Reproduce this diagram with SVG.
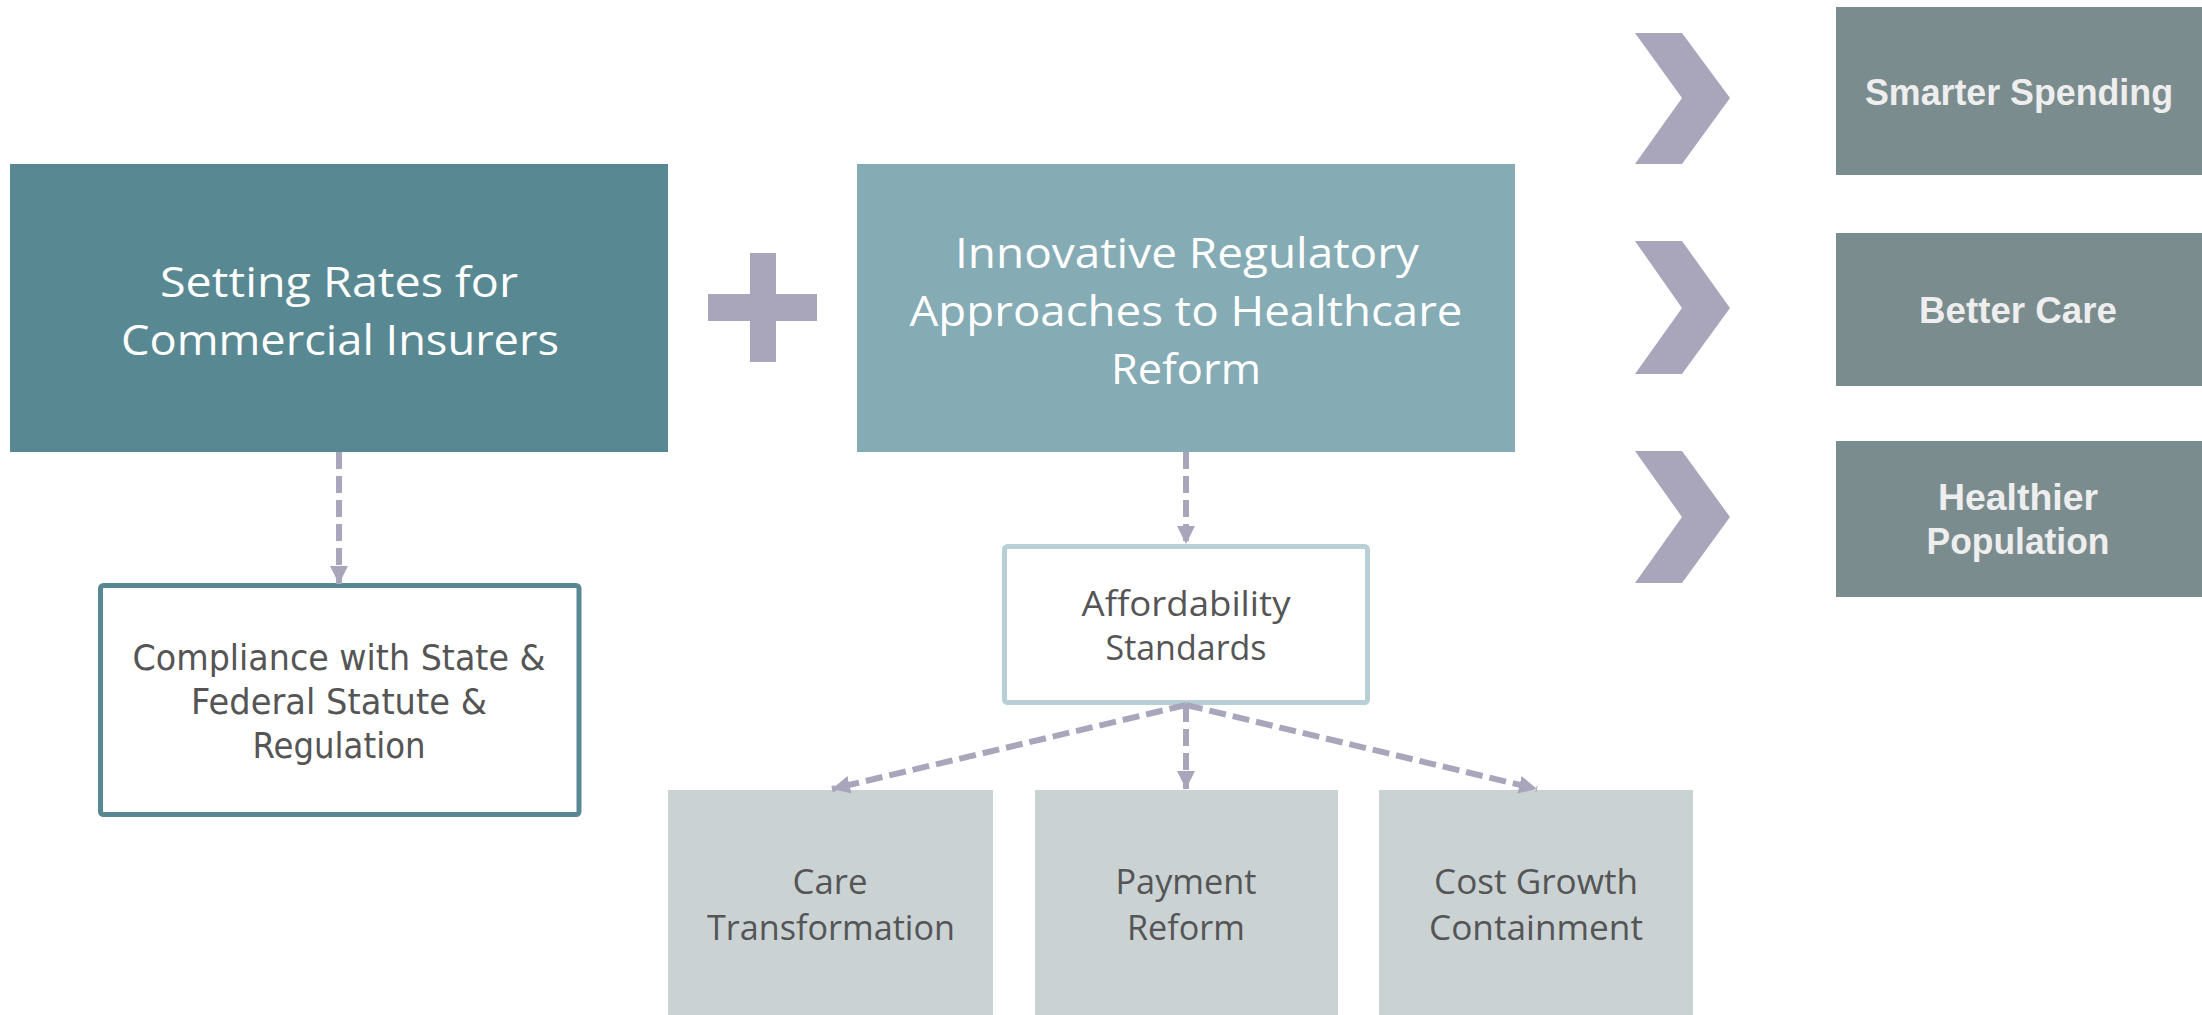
<svg xmlns="http://www.w3.org/2000/svg" width="2202" height="1015" viewBox="0 0 2202 1015">
<style>
.bg{fill:#ffffff}
.title{font-family:"Open Sans","Liberation Sans",sans-serif;font-size:42px;fill:#ffffff;text-anchor:middle}
.comp{font-family:"DejaVu Sans","Liberation Sans",sans-serif;font-size:36px;fill:#555555;text-anchor:middle}
.cond{font-family:"Open Sans","Liberation Sans",sans-serif;font-size:35px;fill:#555555;text-anchor:middle}
.goal{font-family:"Liberation Sans","Arial",sans-serif;font-size:37px;font-weight:bold;fill:#eeeeee;text-anchor:middle}
.chev{fill:#a9a6bc}
.goalbox{fill:#7b8c8e}
.sub{fill:#cad2d4}
.conn{stroke:#a9a6bc;stroke-width:6;stroke-dasharray:17 7;fill:none}
</style>
<defs>
<marker id="ah" markerUnits="userSpaceOnUse" markerWidth="18" markerHeight="18" refX="18" refY="9" orient="auto">
<path d="M0,0 L18,9 L0,18 Z" fill="#a9a6bc"/>
</marker>
</defs>
<rect class="bg" x="0" y="0" width="2202" height="1015"/>

<g id="setting-rates">
<rect x="10" y="164" width="658" height="288" fill="#588892"/>
<text class="title" x="339" y="297" textLength="358" lengthAdjust="spacingAndGlyphs">Setting Rates for</text>
<text class="title" x="340" y="355" textLength="438" lengthAdjust="spacingAndGlyphs">Commercial Insurers</text>
</g>

<g id="plus">
<rect x="750" y="253" width="26" height="109" fill="#a9a6bc"/>
<rect x="708" y="294" width="109" height="27" fill="#a9a6bc"/>
</g>

<g id="innovative">
<rect x="857" y="164" width="658" height="288" fill="#85abb5"/>
<text class="title" x="1187" y="268" textLength="464" lengthAdjust="spacingAndGlyphs">Innovative Regulatory</text>
<text class="title" x="1186" y="326" textLength="553" lengthAdjust="spacingAndGlyphs">Approaches to Healthcare</text>
<text class="title" x="1186" y="384" textLength="150" lengthAdjust="spacingAndGlyphs">Reform</text>
</g>

<g id="compliance">
<rect x="100.5" y="585.5" width="478.5" height="229" rx="3" fill="#ffffff" stroke="#588892" stroke-width="5"/>
<text class="comp" x="339" y="670" textLength="413" lengthAdjust="spacingAndGlyphs">Compliance with State &amp;</text>
<text class="comp" x="339" y="714" textLength="296" lengthAdjust="spacingAndGlyphs">Federal Statute &amp;</text>
<text class="comp" x="339" y="758" textLength="173" lengthAdjust="spacingAndGlyphs">Regulation</text>
</g>

<g id="affordability">
<rect x="1004.5" y="546.5" width="363" height="156" rx="3" fill="#ffffff" stroke="#b7cfd5" stroke-width="5"/>
<text class="cond" x="1186" y="616" textLength="209" lengthAdjust="spacingAndGlyphs">Affordability</text>
<text class="cond" x="1186" y="660" textLength="161" lengthAdjust="spacingAndGlyphs">Standards</text>
</g>

<g id="care-transformation">
<rect class="sub" x="668" y="790" width="325" height="225"/>
<text class="cond" x="830" y="894" textLength="75" lengthAdjust="spacingAndGlyphs">Care</text>
<text class="cond" x="831" y="940" textLength="248" lengthAdjust="spacingAndGlyphs">Transformation</text>
</g>

<g id="payment-reform">
<rect class="sub" x="1035" y="790" width="303" height="225"/>
<text class="cond" x="1186" y="894" textLength="141" lengthAdjust="spacingAndGlyphs">Payment</text>
<text class="cond" x="1186" y="940" textLength="118" lengthAdjust="spacingAndGlyphs">Reform</text>
</g>

<g id="cost-growth">
<rect class="sub" x="1379" y="790" width="314" height="225"/>
<text class="cond" x="1536" y="894" textLength="204" lengthAdjust="spacingAndGlyphs">Cost Growth</text>
<text class="cond" x="1536" y="940" textLength="214" lengthAdjust="spacingAndGlyphs">Containment</text>
</g>

<g id="chevrons">
<polygon class="chev" points="1635,33 1682,33 1730,98 1682,164 1635,164 1682,98"/>
<polygon class="chev" points="1635,241 1682,241 1730,308 1682,374 1635,374 1682,308"/>
<polygon class="chev" points="1635,451 1682,451 1730,517 1682,583 1635,583 1682,517"/>
</g>

<g id="smarter-spending">
<rect class="goalbox" x="1836" y="7" width="366" height="168"/>
<text class="goal" x="2019" y="105" textLength="308" lengthAdjust="spacingAndGlyphs">Smarter Spending</text>
</g>

<g id="better-care">
<rect class="goalbox" x="1836" y="233" width="366" height="153"/>
<text class="goal" x="2018" y="323" textLength="198" lengthAdjust="spacingAndGlyphs">Better Care</text>
</g>

<g id="healthier-population">
<rect class="goalbox" x="1836" y="441" width="366" height="156"/>
<text class="goal" x="2018" y="510" textLength="160" lengthAdjust="spacingAndGlyphs">Healthier</text>
<text class="goal" x="2018" y="554" textLength="183" lengthAdjust="spacingAndGlyphs">Population</text>
</g>

<g id="connectors">
<line class="conn" x1="339" y1="452" x2="339" y2="584" marker-end="url(#ah)"/>
<line class="conn" x1="1186" y1="452" x2="1186" y2="544" marker-end="url(#ah)"/>
<line class="conn" x1="1186" y1="705" x2="832" y2="789" marker-end="url(#ah)"/>
<line class="conn" x1="1186" y1="705" x2="1186" y2="789" marker-end="url(#ah)"/>
<line class="conn" x1="1186" y1="705" x2="1537" y2="789" marker-end="url(#ah)"/>
</g>
</svg>
